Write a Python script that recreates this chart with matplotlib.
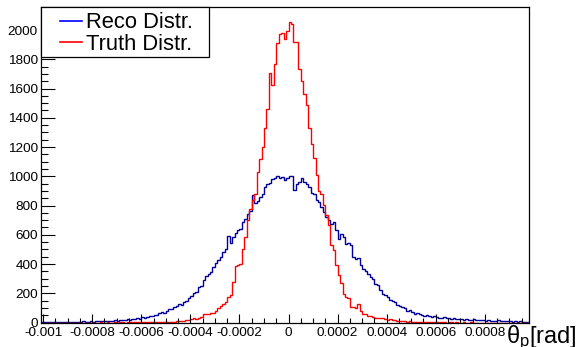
import numpy as np
import matplotlib
matplotlib.use("Agg")
import matplotlib.pyplot as plt
from matplotlib.ticker import MultipleLocator, FixedLocator
from matplotlib.lines import Line2D
from matplotlib.patches import Rectangle

plt.rcParams["font.family"] = ["Liberation Sans", "DejaVu Sans"]
plt.rcParams["axes.unicode_minus"] = False
plt.rcParams["mathtext.fontset"] = "custom"
plt.rcParams["mathtext.rm"] = "Liberation Sans"
plt.rcParams["mathtext.it"] = "Liberation Sans"

# histogram binning: 200 bins of 1e-5 rad
bin_lo = -0.00101
bin_width = 0.00001
n_bins = 200

# reconstructed theta_p counts per bin (left to right)
reco_counts = [
    1, 2, 2, 3, 1, 2, 3, 2, 4, 3,
    4, 3, 5, 4, 6, 4, 5, 7, 5, 6, 8, 6, 9,
    10, 8, 11, 9, 12, 10,
    13, 15, 12, 16, 14,
    18, 22, 20, 25, 23, 28, 26,
    35, 32, 40, 44, 42, 50, 48,
    62, 70, 68, 78,
    95, 92, 105, 110,
    128, 120, 139, 145,
    165, 178,
    200, 212,
    240, 250,
    290,
    320, 333, 345,
    379, 410, 425, 447, 480, 505, 590, 541, 584, 615,
    630, 640, 690, 705, 745, 760, 870, 820, 830, 858,
    881, 925, 950, 955, 984, 990, 1000, 985, 995, 975, 990,
    1002, 1000, 904, 950, 961, 991, 961, 950, 927, 886,
    881, 836, 824, 790, 755, 721, 699, 676, 687, 630,
    573, 607, 584, 539, 545, 527, 447, 436, 440, 390,
    367, 350, 333, 310, 300, 265, 255, 219, 196, 185,
    173, 155, 150, 139, 123, 115, 105, 100, 82, 85,
    75, 59, 62, 55, 48, 45, 50, 42, 40, 44,
    36, 32, 30, 35, 28, 30, 26, 28, 25, 22,
    25, 20, 22, 18, 20, 25, 18, 16, 20, 14,
    12, 15, 11, 13, 10, 14, 9, 11, 8, 10,
    7, 6, 8, 5, 7, 4, 6, 5, 3,
]

# generated (truth) theta_p counts per bin
truth_counts = [
    0, 0, 0, 0, 0, 0, 0, 0, 0, 0,
    0, 0, 0, 0, 0, 0, 0, 0, 0, 0,
    0, 0, 0, 0, 1, 0, 0, 1, 0, 0,
    1, 0, 1, 1, 0, 1, 1, 2, 1, 2,
    1, 2, 2, 1, 3, 2, 3, 2, 4, 3, 4, 3,
    5, 4, 6, 7,
    11, 13, 12, 15, 14,
    25, 28, 26, 32, 35,
    55, 60, 58, 64,
    66, 80,
    96, 110,
    125, 140,
    175, 190,
    276, 385, 392, 402, 500, 584, 700, 775, 840, 880,
    1030, 1116, 1199, 1327, 1459, 1703, 1621, 1765, 1909, 1973,
    1982, 1938, 1993,
    2053, 2040, 1916, 1916, 1737, 1650, 1566, 1486, 1333, 1224,
    1123, 1007, 900, 881, 801, 733, 664, 527, 493, 390,
    322, 267, 196, 173, 170, 105, 108, 100, 128, 82,
    60, 55, 43, 45, 40, 30, 32, 28, 30, 25,
    20, 22, 18, 20, 8, 10, 7, 9, 6, 8,
    5, 3, 4, 2, 3, 2, 3, 1, 2, 2,
    1, 2, 1, 1, 0, 1, 1, 0, 1, 0,
    0, 1, 0, 0, 1, 0, 0, 0, 0, 0,
    0, 0, 0, 0, 0, 0, 0, 0, 0, 0,
    0, 0, 0, 0, 0, 0, 0, 0, 0,
]

legend_labels = ["Reco Distr.", "Truth Distr."]
x_tick_values = [-0.001, -0.0008, -0.0006, -0.0004, -0.0002, 0,
                 0.0002, 0.0004, 0.0006, 0.0008]
x_tick_labels = ["-0.001", "-0.0008", "-0.0006", "-0.0004", "-0.0002", "0",
                 "0.0002", "0.0004", "0.0006", "0.0008"]

edges = bin_lo + bin_width * np.arange(n_bins + 1)

W, H = 579, 347
fig = plt.figure(figsize=(W / 100, H / 100), dpi=100)
ax_l, ax_r, ax_t, ax_b = 40.7, 529, 7.3, 322.5
ax = fig.add_axes([ax_l / W, 1 - ax_b / H, (ax_r - ax_l) / W, (ax_b - ax_t) / H])

reco_color = "#00009c"
truth_color = "#ff0000"
ax.stairs(np.array(reco_counts), edges, color=reco_color, lw=1.0, baseline=None)
ax.stairs(np.array(truth_counts), edges, color=truth_color, lw=1.0, baseline=None)

ax.set_xlim(-0.00101, 0.00098)
ax.set_ylim(0, 1.05 * max(max(reco_counts), max(truth_counts)))

ax.xaxis.set_major_locator(FixedLocator(x_tick_values))
ax.set_xticklabels(x_tick_labels)
ax.xaxis.set_minor_locator(MultipleLocator(0.00005))
ax.yaxis.set_major_locator(MultipleLocator(200))
ax.yaxis.set_minor_locator(MultipleLocator(50))

ax.tick_params(axis="x", which="major", direction="in", length=6.5, width=0.8,
               labelsize=9.7, pad=3, top=False)
ax.tick_params(axis="x", which="minor", direction="in", length=3.5, width=0.8, top=False)
ax.tick_params(axis="y", which="major", direction="in", length=10, width=0.8,
               labelsize=9.7, pad=2, right=False)
ax.tick_params(axis="y", which="minor", direction="in", length=5, width=0.8, right=False)
for s in ax.spines.values():
    s.set_linewidth(0.9)
    s.set_color("black")


def fx(px):
    return px / W


def fy(py):
    return 1 - py / H


# legend box in the upper-left corner of the frame
box_r, box_b = 209, 57.3
fig.add_artist(Rectangle((fx(ax_l), fy(box_b)), fx(box_r) - fx(ax_l), fy(ax_t) - fy(box_b),
                         transform=fig.transFigure, facecolor="white",
                         edgecolor="black", lw=0.9, zorder=5))
legend_colors = ["#0000ff", truth_color]
legend_rows = [20.5, 42.3]
for lab, col, row in zip(legend_labels, legend_colors, legend_rows):
    fig.add_artist(Line2D([fx(60), fx(82)], [fy(row), fy(row)], transform=fig.transFigure,
                          color=col, lw=1.2, zorder=6))
    fig.text(fx(85.5), fy(row), lab, ha="left", va="center_baseline", fontsize=15.8,
             zorder=6)

fig.text(577 / W, 1 - 343 / H, "θ$_{\\mathrm{p}}$[rad]", ha="right", va="baseline",
         fontsize=17)

fig.savefig("out.png", dpi=100)
